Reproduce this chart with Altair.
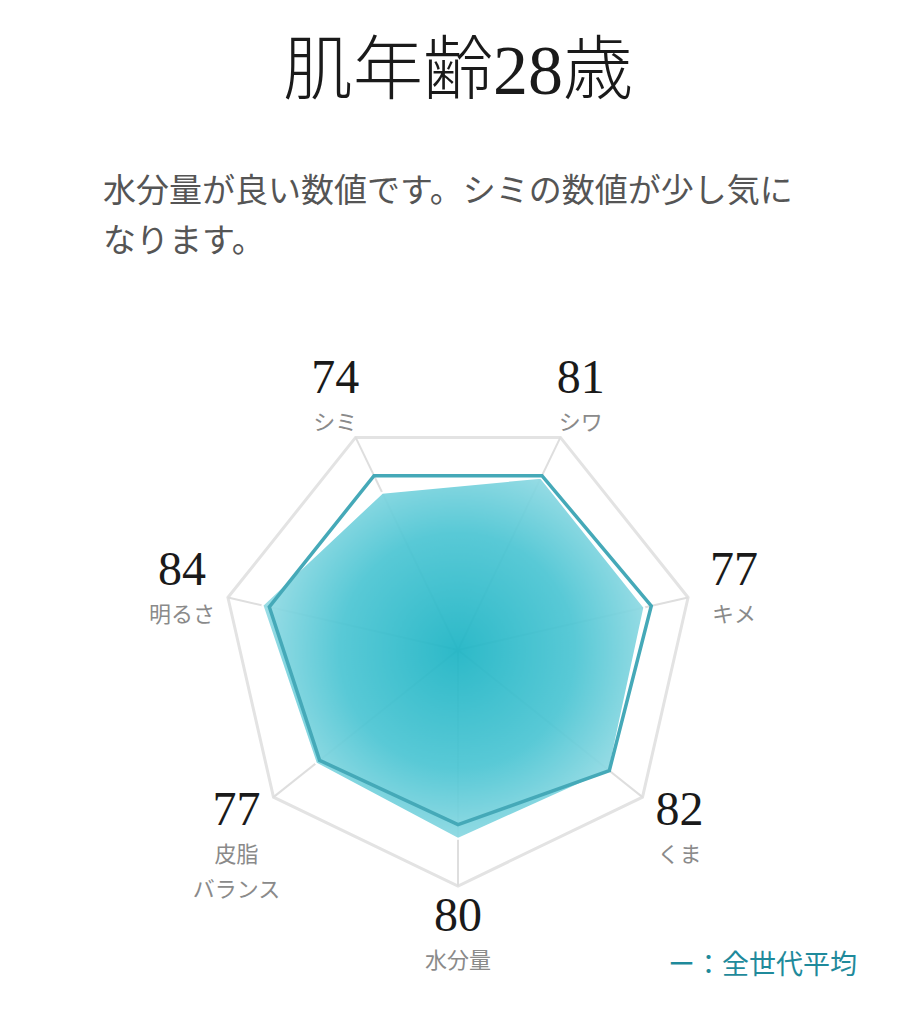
import math
import altair as alt
import pandas as pd

# ---- data ----
categories = ["シミ", "シワ", "キメ", "くま", "水分量", "皮脂\nバランス", "明るさ"]
score_labels = ["74", "81", "77", "82", "80", "77", "84"]
user_values = [74, 81, 81, 82, 80, 77, 85]        # drawn filled polygon
average_values = [82, 82, 84, 82, 74, 75, 82]     # 全世代平均 outline
max_value = 100
title_text = "肌年齢28歳"
comment_text = "水分量が良い数値です。シミの数値が少し気に\nなります。"
legend_text = "ー：全世代平均"

n = len(categories)
angles = [math.radians(-180 / n + i * 360 / n) for i in range(n)]


def polar(values):
    return pd.DataFrame({
        "idx": list(range(n)),
        "x": [v * math.sin(a) for v, a in zip(values, angles)],
        "y": [v * math.cos(a) for v, a in zip(values, angles)],
    })


ring_df = polar([max_value] * n)
user_df = polar(user_values)
avg_df = polar(average_values)
spoke_df = pd.DataFrame({
    "x": [0.0] * n, "y": [0.0] * n,
    "x2": ring_df["x"], "y2": ring_df["y"],
})
label_r = 1.2 * max_value
label_df = pd.DataFrame({
    "x": [label_r * math.sin(a) for a in angles],
    "y": [label_r * math.cos(a) for a in angles],
    "score": score_labels,
    "cat": categories,
})

X = alt.X("x:Q", scale=alt.Scale(domain=[-190.68, 190.68], nice=False, zero=False), axis=None)
Y = alt.Y("y:Q", scale=alt.Scale(domain=[-155.08, 221.19], nice=False, zero=False), axis=None)

ring = alt.Chart(ring_df).mark_line(
    interpolate="linear-closed", color="#e3e3e3", strokeWidth=3
).encode(x=X, y=Y, order=alt.Order("idx:Q"))

spokes = alt.Chart(spoke_df).mark_rule(color="#dedede", strokeWidth=2).encode(
    x=X, y=Y, x2="x2:Q", y2="y2:Q"
)

gradient = alt.RadialGradient(
    gradient="radial",
    stops=[
        alt.GradientStop(color="#1db4c4", offset=0),
        alt.GradientStop(color="#4cc5d3", offset=0.55),
        alt.GradientStop(color="#a2dfe7", offset=1),
    ],
    x1=0.51, y1=0.48, r1=0, x2=0.51, y2=0.48, r2=0.56,
)

user_fill = alt.Chart(user_df).mark_line(
    interpolate="linear-closed", fill=gradient, fillOpacity=0.93,
    stroke="white", strokeWidth=2
).encode(x=X, y=Y, order=alt.Order("idx:Q"))

avg_line = alt.Chart(avg_df).mark_line(
    interpolate="linear-closed", color="#45a9b8", strokeWidth=3.5, strokeJoin="miter"
).encode(x=X, y=Y, order=alt.Order("idx:Q"))

numbers = alt.Chart(label_df).mark_text(
    font="Liberation Serif", fontSize=48, color="#1a1a1a", baseline="middle", dy=-16
).encode(x=X, y=Y, text="score:N")

cat_labels = alt.Chart(label_df).mark_text(
    font="Noto Sans CJK JP", fontSize=22, color="#8a8a8a", baseline="top",
    dy=18, lineBreak="\n", lineHeight=35
).encode(x=X, y=Y, text="cat:N")

title = alt.Chart(pd.DataFrame({"t": [title_text]})).mark_text(
    font="Liberation Serif, Noto Sans CJK JP", fontSize=70, fontWeight=300,
    color="#1a1a1a", align="center", baseline="alphabetic"
).encode(x=alt.value(450), y=alt.value(-34), text="t:N")

comment = alt.Chart(pd.DataFrame({"t": [comment_text]})).mark_text(
    font="Noto Sans CJK JP", fontSize=33, color="#555555", align="left",
    baseline="alphabetic", lineBreak="\n", lineHeight=50
).encode(x=alt.value(95), y=alt.value(74), text="t:N")

legend = alt.Chart(pd.DataFrame({"t": [legend_text]})).mark_text(
    font="Noto Sans CJK JP", fontSize=27, color="#1f8a9b", align="right",
    baseline="alphabetic"
).encode(x=alt.value(849), y=alt.value(846), text="t:N")

chart = alt.layer(
    ring, spokes, user_fill, avg_line, numbers, cat_labels, title, comment, legend
).properties(
    width=900,
    height=888,
    padding={"top": 120, "left": 0, "right": 0, "bottom": 0},
    autosize=alt.AutoSizeParams(type="none"),
).configure_view(stroke=None)

chart.save("out.html", embed_options={"renderer": "svg", "actions": False})
